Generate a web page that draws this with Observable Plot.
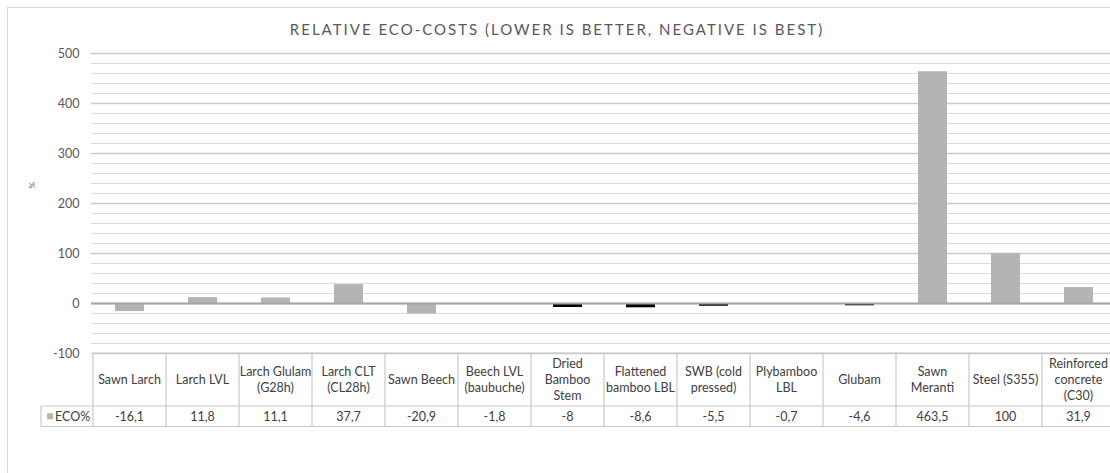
<!DOCTYPE html>
<html><head><meta charset="utf-8">
<script src="https://cdn.jsdelivr.net/npm/d3@7"></script>
<script src="https://cdn.jsdelivr.net/npm/@observablehq/plot@0.6"></script>
<style>html,body{margin:0;padding:0;background:#fff;} svg{display:block}</style>
</head><body><div id="chart"></div>
<script>
const categories = ["Sawn Larch","Larch LVL","Larch Glulam (G28h)","Larch CLT (CL28h)","Sawn Beech","Beech LVL (baubuche)","Dried Bamboo Stem","Flattened bamboo LBL","SWB (cold pressed)","Plybamboo LBL","Glubam","Sawn Meranti","Steel (S355)","Reinforced concrete (C30)"];
const headerLabels = ["Sawn Larch","Larch LVL","Larch Glulam\n(G28h)","Larch CLT\n(CL28h)","Sawn Beech","Beech LVL\n(baubuche)","Dried\nBamboo\nStem","Flattened\nbamboo LBL","SWB (cold\npressed)","Plybamboo\nLBL","Glubam","Sawn\nMeranti","Steel (S355)","Reinforced\nconcrete\n(C30)"];
const ecoValues = [-16.1, 11.8, 11.1, 37.7, -20.9, -1.8, -8, -8.6, -5.5, -0.7, -4.6, 463.5, 100, 31.9];
const bambooProducts = ["Dried Bamboo Stem","Flattened bamboo LBL","SWB (cold pressed)","Plybamboo LBL","Glubam"];
const majorTicks = [-100, 0, 100, 200, 300, 400, 500];
const minorTicks = [-80,-60,-40,-20,20,40,60,80,120,140,160,180,220,240,260,280,320,340,360,380,420,440,460,480];
const title = "RELATIVE ECO-COSTS (LOWER IS BETTER, NEGATIVE IS BEST)";
const seriesName = "ECO%";
const yLabel = "%";

(function () {
const data = categories.map((c, i) => ({category: c, value: ecoValues[i], group: bambooProducts.includes(c) ? "bamboo" : "other"}));
const fmt = v => String(v).replace(".", ",");

const chart = Plot.plot({
  width: 1110, height: 473,
  marginLeft: 91, marginRight: 0, marginTop: 53, marginBottom: 120,
  style: {fontFamily: "Lato, 'Open Sans', sans-serif", fontSize: "12.5px", color: "#595959", background: "#fff"},
  x: {domain: categories, range: [91, 1117.2], padding: 0, axis: null},
  y: {domain: [-100, 500], range: [353, 53], axis: null},
  color: {domain: ["other", "bamboo"], range: ["#b4b4b4", "#000000"]},
  marks: [
    Plot.ruleY(minorTicks, {stroke: "#dcdcdc", strokeWidth: 1}),
    Plot.ruleY(majorTicks, {stroke: "#cacaca", strokeWidth: 1.3}),
    Plot.barY(data, {x: "category", y: "value", fill: "group", insetLeft: 22, insetRight: 22}),
    Plot.ruleY([0], {stroke: "#a6a6a6", strokeWidth: 1.8}),
    Plot.axisY(majorTicks, {tickSize: 0, tickPadding: 12, fontSize: 12.5, fill: "#595959", label: null, tickFormat: d => String(d)}),
    Plot.text([yLabel], {frameAnchor: "left", dx: -59, dy: -15, rotate: -90, fontSize: 8, fill: "#595959"})
  ]
});

document.getElementById("chart").appendChild(chart);

const svg = d3.select(chart);
const xs = chart.scale("x");
const ys = chart.scale("y");
const bw = xs.bandwidth;
const x0 = xs.apply(categories[0]);
const x1 = xs.apply(categories[categories.length - 1]) + bw;
const rowTop = ys.apply(-100);
const rowMid = rowTop + 53;
const rowBot = rowMid + 20.5;
const legendLeft = 41;
const g = svg.append("g").attr("class", "table");

// outer chart border
svg.insert("rect", ":first-child").attr("x", 7.5).attr("y", 7.5).attr("width", 1130).attr("height", 500)
  .attr("fill", "#fff").attr("stroke", "#d9d9d9");

const line = (xa, ya, xb, yb) => g.append("line").attr("x1", xa).attr("y1", ya).attr("x2", xb).attr("y2", yb)
  .attr("stroke", "#c8c8c8").attr("stroke-width", 1.2);
line(x0, rowTop, x1, rowTop);
line(legendLeft, rowMid, x1, rowMid);
line(legendLeft, rowBot, x1, rowBot);
line(legendLeft, rowMid, legendLeft, rowBot);
categories.forEach((c, i) => {
  const xl = xs.apply(c);
  line(xl, rowTop, xl, rowBot);
  const lines = headerLabels[i].split("\n");
  const cx = xl + bw / 2;
  const lh = 16;
  const cy = (rowTop + rowMid) / 2;
  const t = g.append("text").attr("text-anchor", "middle").attr("fill", "#404040").attr("font-size", 12.5);
  lines.forEach((s, k) => {
    t.append("tspan").attr("x", cx).attr("y", cy + (k - (lines.length - 1) / 2) * lh).attr("dy", "0.35em").text(s);
  });
  g.append("text").attr("x", cx).attr("y", (rowMid + rowBot) / 2).attr("dy", "0.35em").attr("text-anchor", "middle")
    .attr("fill", "#404040").attr("font-size", 12.5).text(fmt(ecoValues[i]));
});
line(x1, rowTop, x1, rowBot);

// legend key in table
g.append("rect").attr("x", 47).attr("y", (rowMid + rowBot) / 2 - 3).attr("width", 6).attr("height", 6).attr("fill", "#b4b4b4");
g.append("text").attr("x", 55).attr("y", (rowMid + rowBot) / 2).attr("dy", "0.35em").attr("text-anchor", "start")
  .attr("fill", "#404040").attr("font-size", 12.5).text(seriesName);

// title
svg.append("text").attr("x", 557).attr("y", 30).attr("dy", "0.35em").attr("text-anchor", "middle")
  .attr("fill", "#595959").attr("font-size", 15).attr("letter-spacing", "2px").text(title);
})();
</script>
</body></html>
